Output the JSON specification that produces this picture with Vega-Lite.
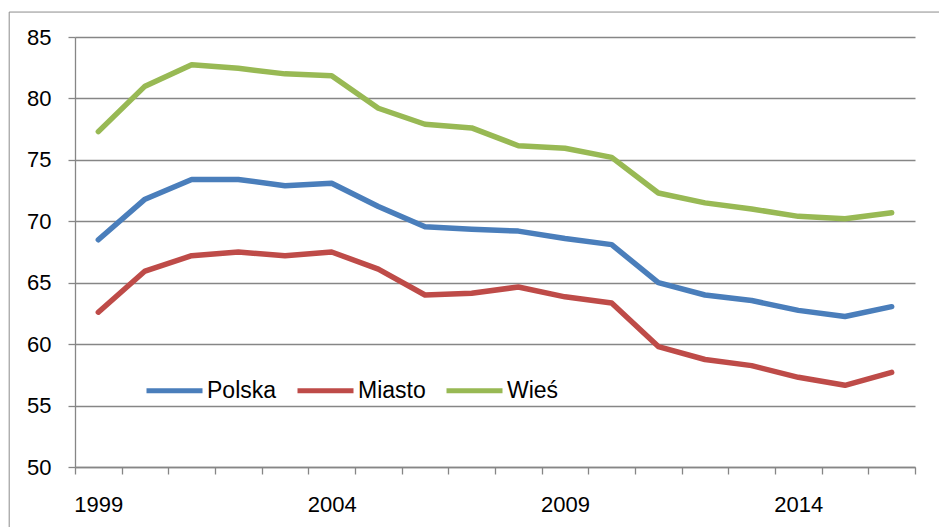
{
  "$schema": "https://vega.github.io/schema/vega-lite/v6.json",
  "width": 840,
  "height": 430,
  "autosize": "none",
  "padding": {"left": 75, "top": 37, "right": 24, "bottom": 60},
  "background": "white",
  "config": {"view": {"stroke": null}, "font": "Liberation Sans"},
  "layer": [
    {
      "data": {"values": [{}]},
      "mark": {"type": "rect", "fill": "transparent", "stroke": "#8c8c8c", "strokeWidth": 1},
      "encoding": {
        "x": {"datum": 1997.09, "type": "quantitative", "scale": {"domain": [1998.5, 2016.5], "nice": false, "zero": false}},
        "x2": {"datum": 2025},
        "y": {"datum": 87.03, "type": "quantitative", "scale": {"domain": [50, 85], "nice": false, "zero": false}},
        "y2": {"datum": 40}
      }
    },
    {
      "data": {"values": [
        {"year": 1999, "series": "Polska", "value": 68.5},
        {"year": 2000, "series": "Polska", "value": 71.8},
        {"year": 2001, "series": "Polska", "value": 73.4},
        {"year": 2002, "series": "Polska", "value": 73.4},
        {"year": 2003, "series": "Polska", "value": 72.9},
        {"year": 2004, "series": "Polska", "value": 73.1},
        {"year": 2005, "series": "Polska", "value": 71.2},
        {"year": 2006, "series": "Polska", "value": 69.55},
        {"year": 2007, "series": "Polska", "value": 69.35},
        {"year": 2008, "series": "Polska", "value": 69.2},
        {"year": 2009, "series": "Polska", "value": 68.6},
        {"year": 2010, "series": "Polska", "value": 68.1},
        {"year": 2011, "series": "Polska", "value": 65.0},
        {"year": 2012, "series": "Polska", "value": 64.0},
        {"year": 2013, "series": "Polska", "value": 63.55},
        {"year": 2014, "series": "Polska", "value": 62.75},
        {"year": 2015, "series": "Polska", "value": 62.25},
        {"year": 2016, "series": "Polska", "value": 63.05},
        {"year": 1999, "series": "Miasto", "value": 62.6},
        {"year": 2000, "series": "Miasto", "value": 65.95},
        {"year": 2001, "series": "Miasto", "value": 67.2},
        {"year": 2002, "series": "Miasto", "value": 67.5},
        {"year": 2003, "series": "Miasto", "value": 67.2},
        {"year": 2004, "series": "Miasto", "value": 67.5},
        {"year": 2005, "series": "Miasto", "value": 66.1},
        {"year": 2006, "series": "Miasto", "value": 64.0},
        {"year": 2007, "series": "Miasto", "value": 64.15},
        {"year": 2008, "series": "Miasto", "value": 64.65},
        {"year": 2009, "series": "Miasto", "value": 63.85},
        {"year": 2010, "series": "Miasto", "value": 63.35},
        {"year": 2011, "series": "Miasto", "value": 59.8},
        {"year": 2012, "series": "Miasto", "value": 58.75},
        {"year": 2013, "series": "Miasto", "value": 58.25},
        {"year": 2014, "series": "Miasto", "value": 57.3},
        {"year": 2015, "series": "Miasto", "value": 56.65},
        {"year": 2016, "series": "Miasto", "value": 57.7},
        {"year": 1999, "series": "Wieś", "value": 77.3},
        {"year": 2000, "series": "Wieś", "value": 81.0},
        {"year": 2001, "series": "Wieś", "value": 82.75},
        {"year": 2002, "series": "Wieś", "value": 82.45},
        {"year": 2003, "series": "Wieś", "value": 82.0},
        {"year": 2004, "series": "Wieś", "value": 81.85},
        {"year": 2005, "series": "Wieś", "value": 79.2},
        {"year": 2006, "series": "Wieś", "value": 77.9},
        {"year": 2007, "series": "Wieś", "value": 77.6},
        {"year": 2008, "series": "Wieś", "value": 76.15},
        {"year": 2009, "series": "Wieś", "value": 75.95},
        {"year": 2010, "series": "Wieś", "value": 75.2},
        {"year": 2011, "series": "Wieś", "value": 72.3},
        {"year": 2012, "series": "Wieś", "value": 71.5},
        {"year": 2013, "series": "Wieś", "value": 71.0},
        {"year": 2014, "series": "Wieś", "value": 70.4},
        {"year": 2015, "series": "Wieś", "value": 70.2},
        {"year": 2016, "series": "Wieś", "value": 70.7}
      ]},
      "mark": {"type": "line", "strokeWidth": 5.5, "strokeCap": "round", "strokeJoin": "round"},
      "encoding": {
        "x": {
          "field": "year", "type": "quantitative",
          "scale": {"domain": [1998.5, 2016.5], "nice": false, "zero": false},
          "axis": {
            "title": null, "grid": false,
            "values": [1998.5, 1999.5, 2000.5, 2001.5, 2002.5, 2003.5, 2004.5, 2005.5, 2006.5, 2007.5, 2008.5, 2009.5, 2010.5, 2011.5, 2012.5, 2013.5, 2014.5, 2015.5, 2016.5],
            "labelExpr": "(datum.value - 1998.5) % 5 == 0 ? format(datum.value + 0.5, 'd') : ''",
            "labelOffset": 23.33, "labelPadding": 20, "labelFontSize": 22, "labelColor": "#000000",
            "labelOverlap": false, "labelFlush": false, "labelBound": false,
            "tickSize": 7, "tickColor": "#868686", "tickWidth": 1.3,
            "domainColor": "#868686", "domainWidth": 1.3
          }
        },
        "y": {
          "field": "value", "type": "quantitative",
          "scale": {"domain": [50, 85], "nice": false, "zero": false},
          "axis": {
            "title": null, "grid": true, "values": [50, 55, 60, 65, 70, 75, 80, 85],
            "gridColor": "#868686", "gridWidth": 1.3,
            "tickSize": 7, "tickColor": "#868686", "tickWidth": 1.3,
            "domainColor": "#868686", "domainWidth": 1.3,
            "labelPadding": 17, "labelFontSize": 22, "labelColor": "#000000"
          }
        },
        "color": {
          "field": "series", "type": "nominal",
          "scale": {"domain": ["Polska", "Miasto", "Wieś"], "range": ["#4A7EBB", "#BE4B48", "#98B954"]},
          "legend": {
            "title": null, "orient": "none", "legendX": 69, "legendY": 323,
            "direction": "horizontal", "symbolType": "stroke", "symbolStrokeWidth": 5,
            "symbolSize": 3136, "labelFontSize": 23, "labelOffset": 2, "columnPadding": 10,
            "labelColor": "#000000"
          }
        }
      }
    }
  ]
}
